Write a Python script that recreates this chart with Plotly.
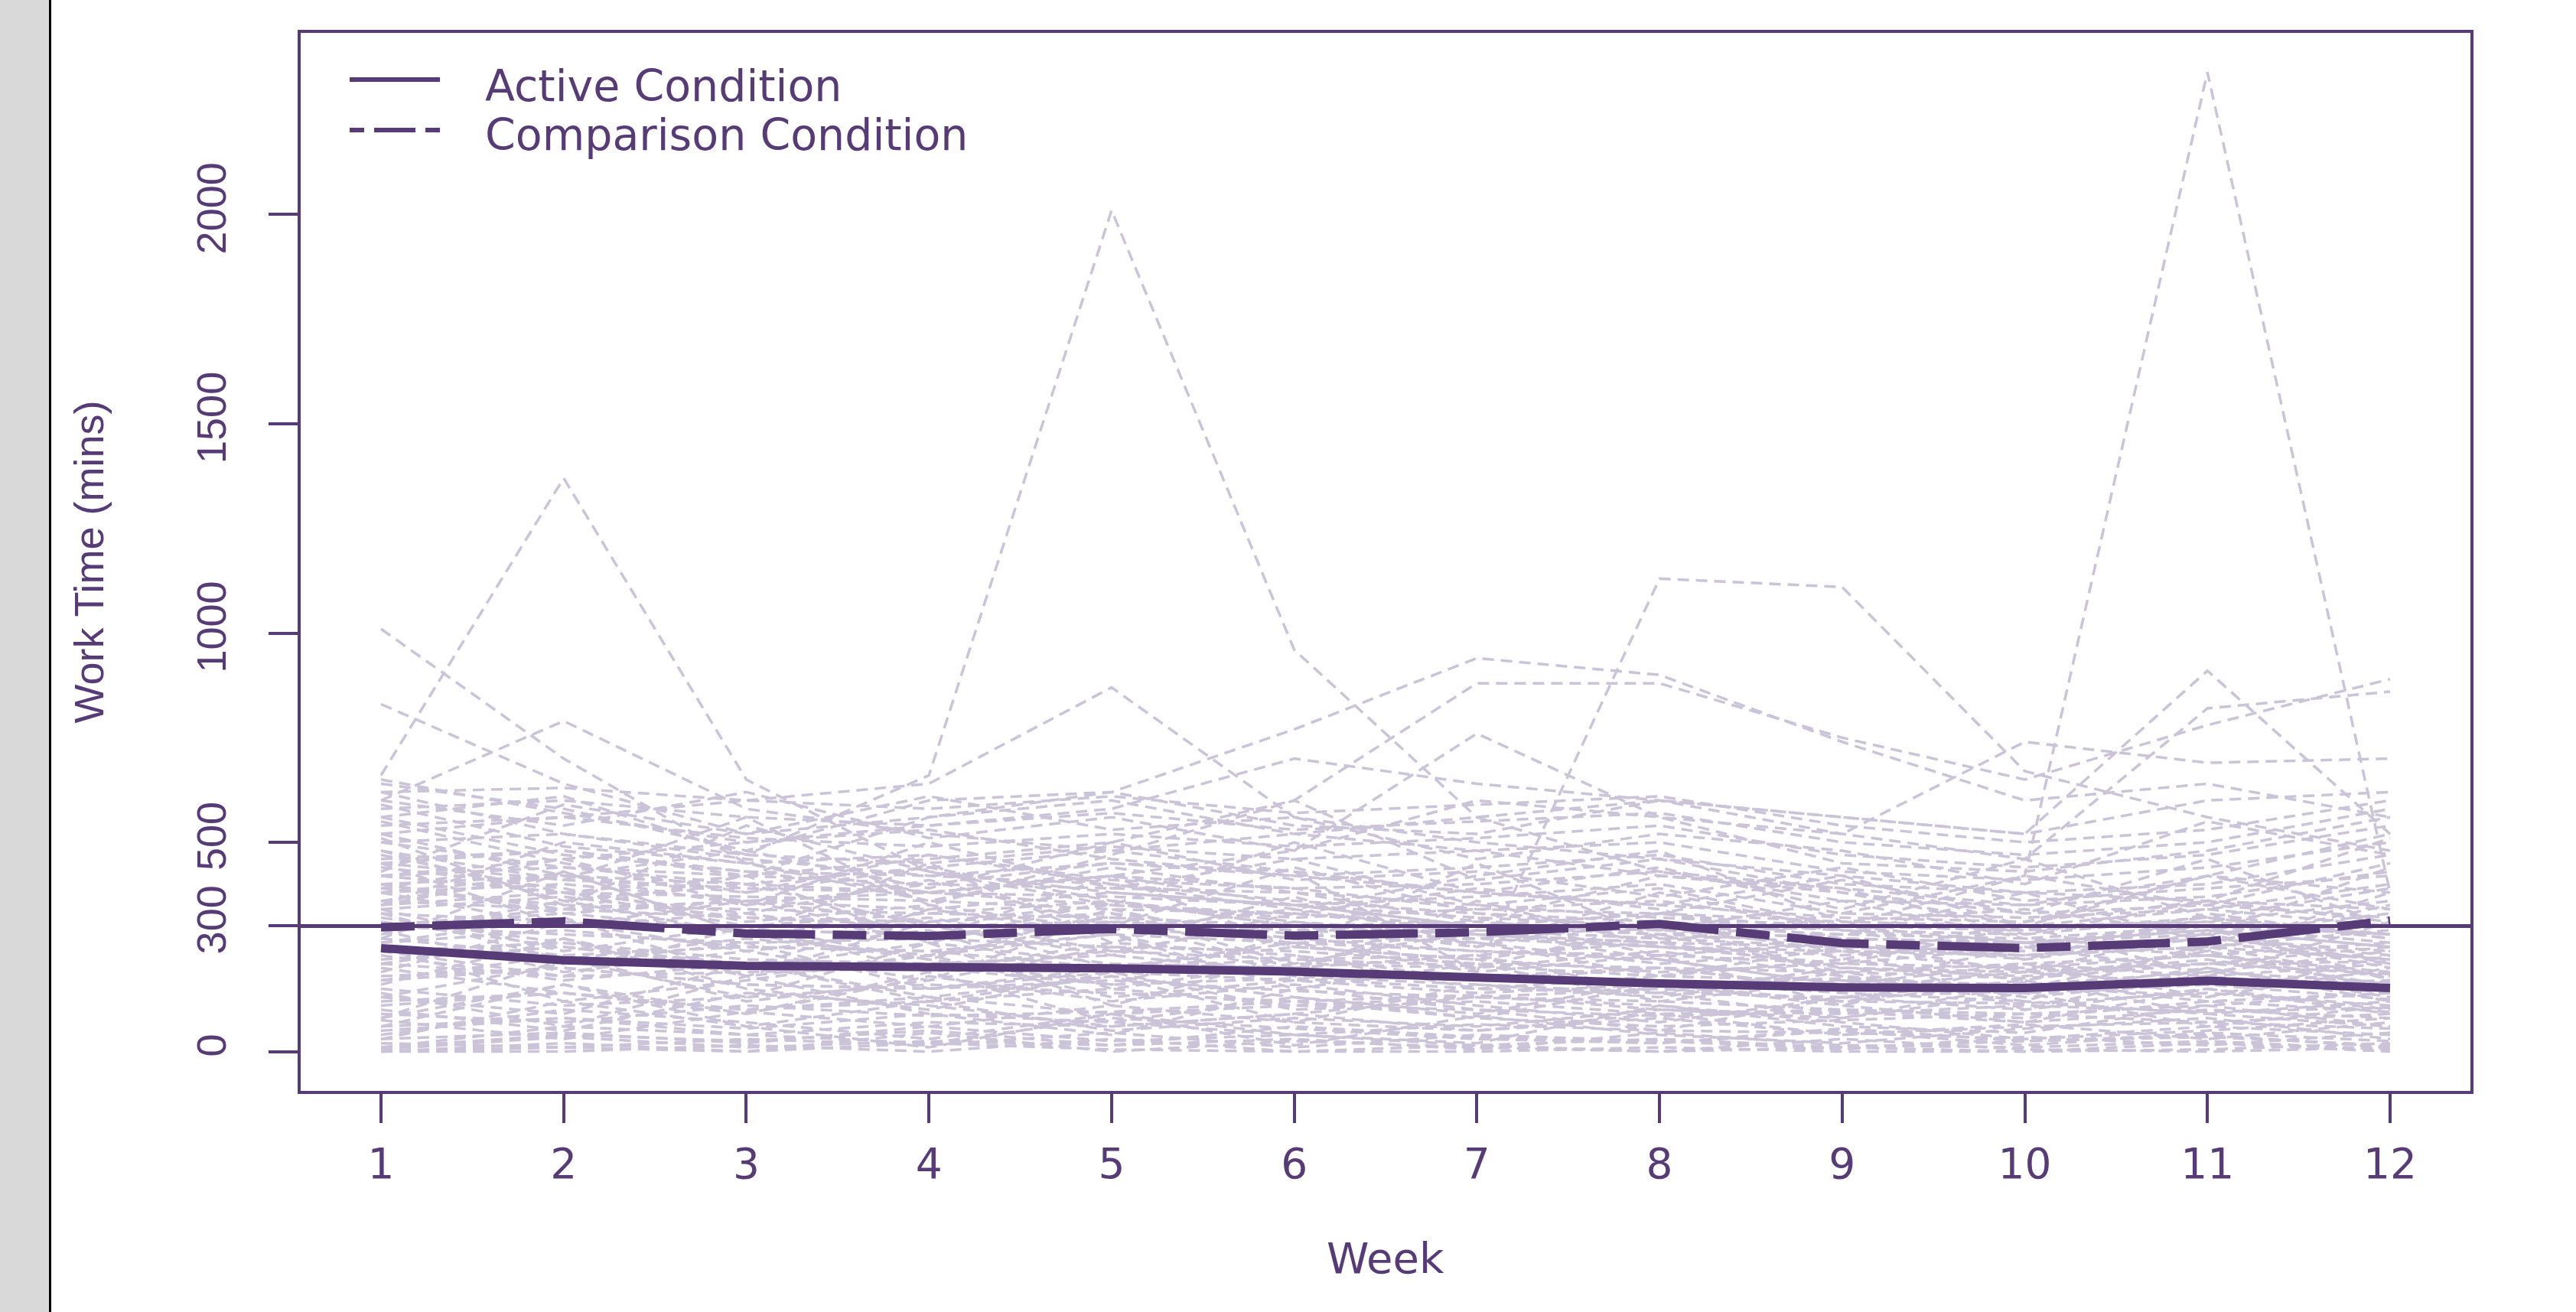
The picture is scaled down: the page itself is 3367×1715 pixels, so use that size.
import plotly.graph_objects as go

# ---------------- data ----------------
weeks = list(range(1, 13))
week_tick_labels = [str(w) for w in weeks]

active_mean = [247, 218, 205, 204, 199, 191, 176, 163, 153, 152, 169, 152]
comparison_mean = [297, 311, 282, 276, 293, 277, 285, 305, 259, 247, 263, 313]

y_tick_values = [0, 300, 500, 1000, 1500, 2000]
reference_minutes = 300

# individual participants (light dashed lines)
active_subjects = [
    [0, 0, 15, 0, 30, 0, 0, 10, 0, 0, 20, 0],
    [30, 45, 20, 60, 25, 40, 15, 30, 10, 25, 35, 15],
    [60, 80, 55, 90, 70, 40, 65, 50, 45, 30, 60, 40],
    [90, 70, 110, 85, 95, 120, 80, 60, 75, 90, 70, 55],
    [120, 140, 100, 130, 90, 110, 100, 85, 95, 70, 100, 80],
    [150, 110, 130, 160, 140, 120, 135, 100, 90, 110, 95, 105],
    [180, 200, 160, 150, 170, 145, 130, 150, 120, 115, 140, 110],
    [210, 180, 190, 200, 160, 175, 150, 140, 130, 145, 160, 125],
    [240, 260, 220, 210, 230, 190, 170, 160, 175, 150, 180, 140],
    [270, 230, 250, 240, 200, 220, 205, 180, 170, 160, 190, 165],
    [300, 280, 260, 270, 250, 240, 210, 200, 190, 175, 210, 185],
    [330, 310, 290, 280, 300, 260, 240, 230, 210, 200, 230, 190],
    [360, 340, 320, 300, 310, 290, 270, 250, 240, 230, 250, 220],
    [390, 350, 340, 330, 320, 300, 280, 260, 250, 240, 270, 230],
    [420, 380, 370, 360, 340, 330, 300, 290, 270, 260, 290, 250],
    [450, 410, 390, 380, 370, 350, 320, 300, 280, 270, 300, 260],
    [500, 440, 420, 400, 390, 380, 350, 320, 300, 290, 320, 280],
    [10, 60, 40, 20, 80, 55, 30, 20, 50, 15, 45, 25],
    [75, 30, 95, 60, 110, 70, 50, 90, 40, 65, 30, 70],
    [200, 140, 90, 180, 120, 160, 110, 70, 130, 100, 150, 90],
    [260, 320, 180, 230, 280, 150, 210, 120, 170, 140, 200, 130],
    [340, 240, 300, 190, 260, 230, 170, 200, 150, 190, 160, 170],
    [130, 210, 260, 150, 200, 260, 190, 230, 110, 210, 130, 200],
    [480, 360, 280, 320, 240, 310, 260, 180, 220, 170, 240, 150],
    [560, 470, 430, 380, 350, 330, 290, 270, 250, 230, 270, 240],
    [620, 520, 460, 420, 400, 360, 330, 310, 290, 280, 320, 270],
    [0, 20, 0, 45, 0, 25, 10, 0, 30, 5, 0, 10],
    [40, 100, 70, 30, 90, 15, 85, 40, 20, 55, 80, 30],
    [100, 50, 140, 110, 60, 90, 130, 110, 60, 45, 110, 60],
    [230, 170, 210, 120, 180, 130, 90, 170, 140, 120, 90, 120],
    [310, 250, 200, 260, 210, 200, 230, 140, 200, 180, 220, 160],
    [380, 300, 330, 270, 320, 270, 240, 220, 160, 210, 180, 210],
    [440, 390, 310, 350, 290, 340, 280, 250, 230, 260, 230, 180],
    [520, 420, 400, 440, 360, 300, 310, 280, 260, 220, 280, 200],
    [170, 230, 120, 170, 250, 180, 160, 130, 190, 130, 170, 150],
    [20, 10, 30, 15, 45, 10, 40, 25, 5, 35, 15, 45],
    [290, 190, 240, 290, 150, 210, 200, 240, 180, 150, 250, 175],
    [160, 270, 150, 100, 190, 100, 120, 90, 100, 80, 120, 95],
    [400, 330, 360, 310, 330, 280, 260, 210, 240, 195, 210, 215],
    [80, 160, 60, 120, 50, 80, 60, 100, 80, 140, 60, 110],
    [590, 490, 450, 470, 410, 390, 340, 330, 310, 300, 340, 300],
    [650, 570, 500, 530, 460, 420, 380, 350, 320, 310, 360, 310],
    [350, 430, 280, 220, 340, 250, 220, 190, 210, 250, 190, 240],
    [250, 120, 170, 230, 130, 170, 140, 160, 120, 165, 120, 140],
    [5, 35, 10, 25, 15, 30, 5, 45, 15, 10, 25, 5],
]

comparison_subjects = [
    [0, 10, 0, 20, 5, 0, 15, 0, 10, 0, 5, 20],
    [50, 80, 40, 70, 60, 90, 50, 80, 40, 60, 70, 90],
    [110, 140, 100, 120, 150, 110, 130, 120, 100, 90, 110, 140],
    [170, 200, 160, 150, 190, 170, 180, 200, 150, 140, 160, 190],
    [220, 250, 210, 200, 240, 220, 230, 260, 200, 190, 210, 250],
    [260, 290, 250, 240, 280, 260, 270, 300, 240, 230, 250, 290],
    [300, 330, 290, 280, 310, 290, 300, 330, 270, 260, 280, 330],
    [340, 370, 320, 310, 350, 320, 340, 360, 300, 290, 310, 360],
    [380, 400, 360, 340, 380, 350, 370, 400, 330, 320, 340, 400],
    [420, 440, 400, 380, 420, 390, 400, 430, 360, 350, 370, 430],
    [460, 480, 430, 420, 450, 420, 440, 470, 400, 380, 400, 470],
    [500, 520, 470, 450, 490, 460, 480, 500, 430, 410, 440, 500],
    [540, 560, 510, 490, 520, 490, 510, 540, 470, 440, 470, 540],
    [580, 600, 560, 540, 570, 530, 550, 570, 500, 470, 500, 580],
    [620, 630, 600, 580, 610, 570, 590, 610, 540, 500, 530, 600],
    [30, 120, 60, 10, 90, 40, 20, 110, 70, 30, 50, 80],
    [140, 60, 180, 90, 40, 150, 100, 50, 130, 170, 90, 60],
    [240, 180, 300, 220, 160, 280, 200, 310, 180, 120, 260, 220],
    [320, 260, 200, 340, 280, 190, 360, 250, 210, 300, 180, 310],
    [400, 340, 420, 260, 360, 300, 250, 380, 290, 220, 330, 270],
    [470, 380, 330, 410, 300, 440, 330, 290, 360, 270, 240, 380],
    [190, 310, 240, 170, 330, 210, 290, 220, 160, 250, 300, 170],
    [80, 220, 130, 260, 110, 230, 150, 180, 250, 100, 200, 120],
    [550, 450, 380, 470, 400, 340, 420, 480, 310, 340, 280, 440],
    [350, 500, 450, 360, 440, 380, 310, 420, 390, 280, 360, 510],
    [280, 360, 400, 300, 230, 330, 390, 340, 220, 310, 420, 340],
    [10, 40, 25, 50, 15, 60, 35, 20, 55, 25, 40, 10],
    [600, 540, 620, 510, 560, 480, 600, 560, 450, 430, 480, 560],
    [430, 590, 520, 610, 530, 560, 460, 520, 480, 400, 550, 470],
    [360, 420, 480, 390, 500, 410, 430, 370, 440, 360, 390, 420],
    [210, 270, 180, 310, 200, 250, 220, 280, 190, 210, 230, 260],
    [130, 90, 210, 130, 180, 70, 160, 140, 80, 160, 130, 230],
    [510, 350, 540, 430, 350, 500, 380, 440, 340, 460, 320, 390],
    [270, 430, 280, 450, 260, 370, 250, 330, 410, 330, 460, 300],
    [450, 300, 360, 270, 420, 250, 450, 270, 280, 380, 260, 350],
    [60, 160, 90, 190, 70, 130, 80, 160, 110, 70, 150, 100],
    [390, 460, 350, 500, 390, 460, 350, 390, 300, 420, 350, 450],
    [330, 220, 270, 230, 310, 200, 320, 230, 260, 190, 290, 210],
    [640, 580, 480, 600, 620, 540, 520, 600, 560, 520, 600, 620],
    [480, 410, 560, 350, 470, 600, 410, 460, 380, 300, 420, 520],
]

high_subjects = [
    [420, 380, 300, 330, 360, 310, 280, 260, 330, 420, 2340, 380],
    [560, 610, 470, 660, 2010, 960, 560, 430, 390, 350, 420, 380],
    [660, 1370, 650, 430, 380, 350, 300, 280, 300, 260, 290, 250],
    [380, 420, 350, 400, 450, 430, 190, 1130, 1110, 670, 560, 480],
    [1010, 700, 450, 380, 420, 350, 300, 330, 290, 260, 300, 280],
    [830, 640, 520, 560, 600, 520, 480, 420, 380, 330, 350, 320],
    [600, 790, 580, 520, 480, 430, 380, 350, 420, 300, 310, 280],
    [520, 560, 600, 640, 870, 560, 500, 460, 420, 380, 360, 340],
    [450, 480, 420, 560, 620, 770, 940, 900, 740, 600, 640, 560],
    [400, 420, 380, 440, 480, 520, 560, 600, 560, 520, 910, 520],
    [350, 380, 420, 460, 500, 600, 880, 880, 750, 650, 780, 890],
    [300, 340, 360, 380, 420, 480, 760, 560, 520, 740, 690, 700],
    [420, 460, 500, 540, 580, 700, 640, 600, 520, 460, 820, 860],
]

# ---------------- styling ----------------
DARK = "rgb(86,59,119)"
LIGHT = "rgb(203,195,215)"
W, H = 3367, 1715
L, R, T, B = 393, 3229, 43, 1426       # plot box in pixels
PW, PH = R - L, B - T


def px_x(p):
    return (p - L) / PW


def px_y(p):
    return (B - p) / PH


fig = go.Figure()

for group in (active_subjects, comparison_subjects, high_subjects):
    xs, ys = [], []
    for row in group:
        xs += weeks + [None]
        ys += row + [None]
    fig.add_trace(go.Scatter(
        x=xs, y=ys, mode="lines", hoverinfo="skip", showlegend=False,
        line=dict(color=LIGHT, width=3.5, dash="15px,9px"),
    ))

fig.add_trace(go.Scatter(
    x=weeks, y=active_mean, mode="lines", name="Active Condition", showlegend=False,
    line=dict(color=DARK, width=11),
))
fig.add_trace(go.Scatter(
    x=weeks, y=comparison_mean, mode="lines", name="Comparison Condition", showlegend=False,
    line=dict(color=DARK, width=11, dash="44px,23px,107px,23px"),
))

shapes = [
    # reference line at 300 minutes
    dict(type="line", xref="paper", yref="y", x0=0, x1=1,
         y0=reference_minutes, y1=reference_minutes,
         line=dict(color=DARK, width=5), layer="above"),
    # grey strip at the left edge of the picture
    dict(type="rect", xref="paper", yref="paper",
         x0=px_x(0), x1=px_x(64), y0=px_y(H + 5), y1=px_y(-5),
         fillcolor="rgb(217,217,217)", line=dict(width=0), layer="below"),
    dict(type="line", xref="paper", yref="paper",
         x0=px_x(65.5), x1=px_x(65.5), y0=px_y(H + 5), y1=px_y(-5),
         line=dict(color="black", width=3)),
    # legend samples
    dict(type="line", xref="paper", yref="paper",
         x0=px_x(457), x1=px_x(575), y0=px_y(104), y1=px_y(104),
         line=dict(color=DARK, width=6)),
    dict(type="line", xref="paper", yref="paper",
         x0=px_x(457), x1=px_x(575), y0=px_y(170), y1=px_y(170),
         line=dict(color=DARK, width=6, dash="19px,13px,54px,13px")),
]

H_FONT = "DejaVu Sans"
V_FONT = "Liberation Sans, Arial"

annotations = [
    dict(text="Active Condition", xref="paper", yref="paper",
         x=px_x(632), y=px_y(112), xanchor="left", yanchor="middle",
         showarrow=False, font=dict(family=H_FONT, size=57, color=DARK)),
    dict(text="Comparison Condition", xref="paper", yref="paper",
         x=px_x(632), y=px_y(176), xanchor="left", yanchor="middle",
         showarrow=False, font=dict(family=H_FONT, size=57, color=DARK)),
    dict(text="Week", xref="paper", yref="paper",
         x=0.5, y=px_y(1644), xanchor="center", yanchor="middle",
         showarrow=False, font=dict(family=H_FONT, size=56, color=DARK)),
    dict(text="Work Time (mins)", xref="paper", yref="paper",
         x=px_x(115), y=0.5, xanchor="center", yanchor="middle", textangle=-90,
         showarrow=False, font=dict(family=V_FONT, size=54, color=DARK)),
]

fig.update_layout(
    width=W, height=H,
    margin=dict(l=L, r=W - R, t=T, b=H - B, pad=0),
    paper_bgcolor="white", plot_bgcolor="white",
    showlegend=False,
    shapes=shapes, annotations=annotations,
    xaxis=dict(
        range=[0.56, 12.44], tickmode="array", tickvals=weeks, ticktext=week_tick_labels,
        ticks="outside", ticklen=38, tickwidth=4, tickcolor=DARK,
        showline=True, linecolor=DARK, linewidth=4, mirror=True,
        showgrid=False, zeroline=False, ticklabelstandoff=6,
        tickfont=dict(family=H_FONT, size=55, color=DARK),
    ),
    yaxis=dict(
        range=[-94, 2434], tickmode="array", tickvals=y_tick_values,
        ticktext=[str(v) for v in y_tick_values],
        ticks="outside", ticklen=38, tickwidth=4, tickcolor=DARK, tickangle=-90,
        showline=True, linecolor=DARK, linewidth=4, mirror=True,
        showgrid=False, zeroline=False, ticklabelstandoff=34,
        tickfont=dict(family=V_FONT, size=54, color=DARK),
    ),
)

fig.write_html(
    "out.html",
    config={"displayModeBar": False},
    post_script="document.body.style.margin='0';document.body.style.overflow='hidden';",
)
